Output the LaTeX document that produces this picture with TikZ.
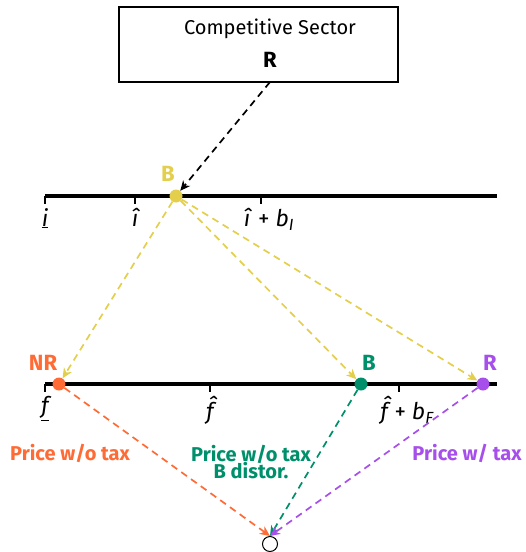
\documentclass[tikz,border=0pt]{standalone}
\usepackage{fontspec}
\setmainfont{Fira Sans}
\usetikzlibrary{arrows.meta}
\definecolor{cyel}{HTML}{E3CF4C}
\definecolor{corg}{HTML}{FF6B35}
\definecolor{cgrn}{HTML}{008F6B}
\definecolor{cpur}{HTML}{A64FEA}
\begin{document}
\begin{tikzpicture}[x=1pt,y=-1pt,
  arr/.style={line width=1.7pt, dash pattern=on 7pt off 5pt, -{Stealth[length=10pt,width=9pt,inset=3pt]}},
  axis/.style={line width=3.2pt},
  tick/.style={line width=2pt},
  dot/.style={circle, inner sep=0pt, minimum size=13pt},
  lab/.style={font=\bfseries\fontsize{20}{22}\selectfont, align=center},
  big/.style={font=\bfseries\fontsize{22}{24}\selectfont},
  ticklab/.style={font=\itshape\fontsize{23}{25}\selectfont, anchor=north, inner sep=1pt}]
\useasboundingbox (0,0) rectangle (526,552);
% box
\node[draw, line width=1.9pt, minimum width=279pt, minimum height=75pt, inner sep=0pt] (box) at (258.5,44.5) {};
\node[font=\fontsize{20}{22}\selectfont] (title) at (270,29) {Competitive Sector};
\node[font=\bfseries\fontsize{22}{24}\selectfont] (boxR) at (270,60) {R};
\coordinate (boxbot) at (270,82);
% top axis
\coordinate (ta) at (45,196); \coordinate (tb) at (497,196);
\draw[axis] (ta) -- (tb);
\foreach \x/\n in {45/t1,135/t2,261/t3} { \draw[tick] (\x,196) -- (\x,204); \coordinate (\n) at (\x,207);}
\node[ticklab] (l1) at (t1) {\underline{i}};
\node[ticklab] (l2) at (t2) {î};
\node[ticklab] (l3) at ([xshift=8pt]t3) {î \textup{+} b\textsubscript{I}};
% bottom axis
\coordinate (ba) at (45,384); \coordinate (bb) at (497,384);
\draw[axis] (ba) -- (bb);
\foreach \x/\n in {45/s1,210/s2,399/s3} { \draw[tick] (\x,384) -- (\x,392); \coordinate (\n) at (\x,395);}
\node[ticklab] (m1) at (s1) {\underline{f}};
\node[ticklab] (m2) at (s2) {f̂};
\node[ticklab] (m3) at ([xshift=8pt]s3) {f̂ \textup{+} b\textsubscript{F}};
% dots
\node[dot, fill=cyel] (Bt) at (176,196) {};
\node[big, text=cyel] (Btl) at (168,174) {B};
\node[dot, fill=corg] (NR) at (59,384) {};
\node[big, text=corg] (NRl) at (43,363) {NR};
\node[dot, fill=cgrn] (Bb) at (361,384) {};
\node[big, text=cgrn] (Bbl) at (369,363) {B};
\node[dot, fill=cpur] (Rb) at (483,384) {};
\node[big, text=cpur] (Rbl) at (490,363) {R};
% outcome
\node[circle, draw, line width=1pt, minimum size=15pt, inner sep=0pt] (out) at (270,544) {};
% arrows
\draw[arr, black] (boxbot) -- (Bt);
\draw[arr, cyel] (Bt) -- (NR);
\draw[arr, cyel] (Bt) -- (Bb);
\draw[arr, cyel] (Bt) -- (Rb);
\draw[arr, corg] (NR) -- (out.north);
\draw[arr, cgrn] (Bb) -- (out.north);
\draw[arr, cpur] (Rb) -- (out.north);
% labels
\node[lab, text=corg] (p1) at (70,453) {Price w/o tax};
\node[lab, text=cgrn] (p2) at (251,462) {Price w/o tax\\[-5pt]B distor.};
\node[lab, text=cpur] (p3) at (467,453) {Price w/ tax};
\end{tikzpicture}
\end{document}
